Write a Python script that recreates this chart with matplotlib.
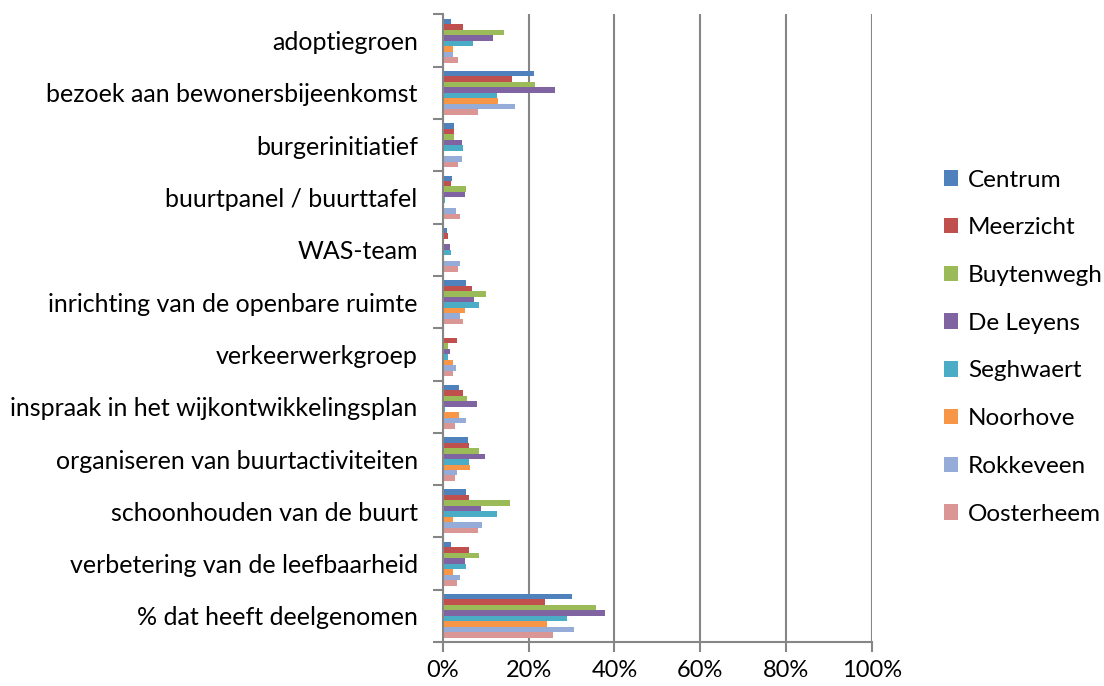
import numpy as np
import matplotlib.pyplot as plt

plt.rcParams['font.family'] = ['Lato', 'DejaVu Sans']

# categories, top to bottom as in the chart
categories = ["adoptiegroen", "bezoek aan bewonersbijeenkomst", "burgerinitiatief",
              "buurtpanel / buurttafel", "WAS-team", "inrichting van de openbare ruimte",
              "verkeerwerkgroep", "inspraak in het wijkontwikkelingsplan",
              "organiseren van buurtactiviteiten", "schoonhouden van de buurt",
              "verbetering van de leefbaarheid", "% dat heeft deelgenomen"]

series = ["Centrum", "Meerzicht", "Buytenwegh", "De Leyens",
          "Seghwaert", "Noorhove", "Rokkeveen", "Oosterheem"]

# values in percent, one list per series (same order as categories)
centrum    = [2.0, 21.2, 2.6, 2.1, 0.9, 5.4, 0.0, 3.7, 5.9, 5.4, 2.0, 30.1]
meerzicht  = [4.8, 16.1, 2.7, 2.0, 1.3, 6.9, 3.4, 4.8, 6.2, 6.2, 6.2, 23.9]
buytenwegh = [14.2, 21.4, 2.7, 5.5, 0.0, 10.0, 1.3, 5.6, 8.5, 15.6, 8.5, 35.7]
de_leyens  = [11.7, 26.1, 4.4, 5.3, 1.7, 7.2, 1.7, 8.1, 9.8, 8.9, 5.2, 37.7]
seghwaert  = [7.0, 12.7, 4.8, 0.5, 2.0, 8.5, 1.3, 0.5, 6.2, 12.7, 5.5, 29.0]
noorhove   = [2.4, 12.8, 0.0, 0.0, 0.0, 5.1, 2.5, 3.7, 6.3, 2.4, 2.4, 24.3]
rokkeveen  = [2.4, 16.8, 4.4, 3.0, 4.0, 4.0, 3.0, 5.5, 3.4, 9.1, 4.0, 30.5]
oosterheem = [3.5, 8.3, 3.5, 4.1, 3.5, 4.7, 2.3, 2.9, 2.9, 8.2, 3.4, 25.7]

values = [centrum, meerzicht, buytenwegh, de_leyens, seghwaert, noorhove, rokkeveen, oosterheem]
colors = ["#4F81BD", "#C0504D", "#9BBB59", "#8064A2", "#4BACC6", "#F79646", "#95ABD8", "#D99694"]

fig = plt.figure(figsize=(11.04, 6.86), dpi=100)
ax = fig.add_axes([0.401, 0.064, 0.389, 0.915])

n = len(categories)
ypos = np.arange(n)[::-1]
h = 0.84 / len(series)
for j, (name, vals) in enumerate(zip(series, values)):
    ax.barh(ypos + (3.5 - j) * h, vals, height=h, color=colors[j], label=name)

ax.set_ylim(-0.5, n - 0.5)
ax.set_xlim(0, 100)
ax.set_xticks(np.arange(0, 101, 20))
ax.set_xticklabels([f"{v}%" for v in range(0, 101, 20)], fontsize=17)
ax.set_yticks(np.arange(n + 1) - 0.5, minor=False)
ax.set_yticklabels([])
ax.set_yticks(ypos, minor=True)
ax.set_yticklabels(categories, minor=True, fontsize=18)
ax.tick_params(axis='y', which='minor', length=0, pad=18)
ax.tick_params(axis='y', which='major', length=7, width=1.5, color="#868686")
ax.tick_params(axis='x', length=7, width=1.5, color="#868686", pad=6)

ax.grid(axis='x', color="#868686", linewidth=1.5)
ax.set_axisbelow(True)
for s in ['top', 'right']:
    ax.spines[s].set_visible(False)
for s in ['left', 'bottom']:
    ax.spines[s].set_color("#868686")
    ax.spines[s].set_linewidth(1.5)

ax.legend(loc='center left', bbox_to_anchor=(1.167, 0.47), frameon=False, fontsize=17.5,
          borderaxespad=0, borderpad=0, handlelength=0.6, handleheight=0.6,
          labelspacing=1.1, handletextpad=0.4)

plt.savefig('out.png')
